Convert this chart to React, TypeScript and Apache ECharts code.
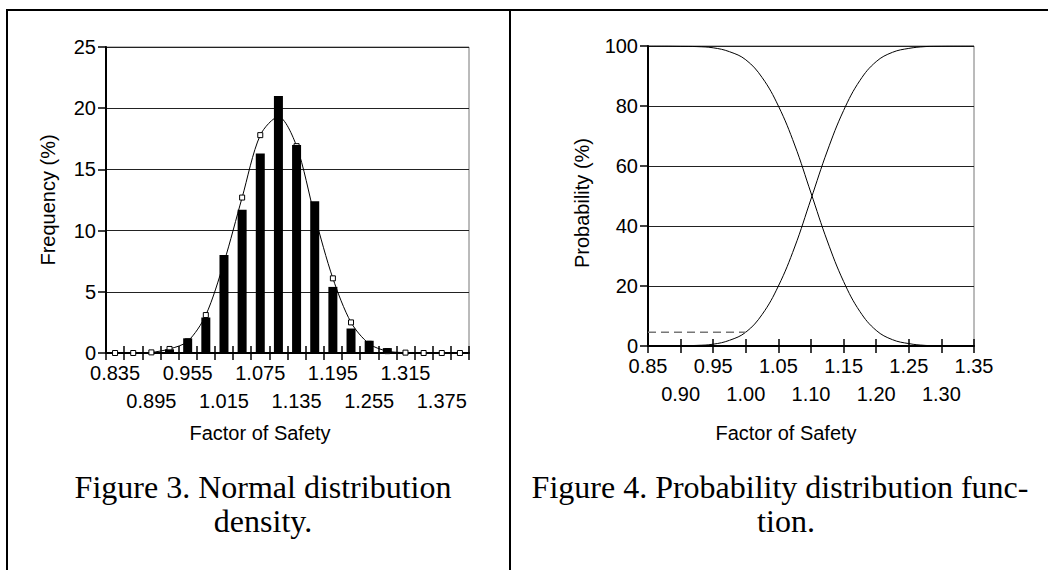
import React, { useEffect, useRef } from 'react';
import * as echarts from 'echarts';

// ---- Figure 3: histogram of factor of safety ----
const freqCategories = [
  '0.835', '0.865', '0.895', '0.925', '0.955', '0.985', '1.015', '1.045', '1.075', '1.105',
  '1.135', '1.165', '1.195', '1.225', '1.255', '1.285', '1.315', '1.345', '1.375', '1.405',
];
const freqBars = [0, 0, 0, 0.3, 1.2, 2.9, 8.0, 11.7, 16.3, 21.0, 17.0, 12.4, 5.4, 2.0, 1.0, 0.4, 0, 0, 0, 0];
const freqCurve = [0, 0, 0.05, 0.33, 0.95, 3.1, 7.4, 12.7, 17.8, 19.3, 16.9, 11.2, 6.1, 2.5, 0.75, 0.15, 0.03, 0, 0, 0];

// ---- Figure 4: probability distribution function ----
const fsValues = [
  0.85, 0.875, 0.9, 0.925, 0.95, 0.975, 1.0, 1.025, 1.05, 1.075, 1.1,
  1.125, 1.15, 1.175, 1.2, 1.225, 1.25, 1.275, 1.3, 1.325, 1.35,
];
const probIncreasing = [0, 0, 0.1, 0.2, 0.6, 1.9, 4.6, 10.5, 20.0, 33.0, 49.0, 65.0, 78.5, 88.5, 94.8, 97.9, 99.2, 99.8, 99.95, 100, 100];
const probDecreasing = [100, 100, 99.9, 99.8, 99.4, 98.1, 95.4, 89.5, 80.0, 67.0, 51.0, 35.0, 21.5, 11.5, 5.2, 2.1, 0.8, 0.2, 0.05, 0, 0];
const dashedX = [0.85, 1.0];
const dashedLevel = 4.6;

const SANS = 'Liberation Sans, Arial, sans-serif';
const SERIF = 'Liberation Serif, Times New Roman, serif';

export default function App() {
  const ref = useRef<HTMLDivElement>(null);

  useEffect(() => {
    if (!ref.current) return;
    const chart = echarts.init(ref.current, undefined, { renderer: 'svg' });

    const labelStyle = { color: '#000', fontSize: 20, fontFamily: SANS };
    const pairs = (ys: number[]) => fsValues.map((x, i) => [x, ys[i]]);
    const fsIndex = (v: number) => Math.round((v - 0.85) / 0.05);

    const option: any = {
      animation: false,
      backgroundColor: '#fff',
      grid: [
        { left: 106, top: 47, width: 363, height: 306, show: true, borderColor: '#777', borderWidth: 1 },
        { left: 648, top: 46, width: 326, height: 300, show: true, borderColor: '#777', borderWidth: 1 },
      ],
      xAxis: [
        {
          gridIndex: 0, type: 'category', data: freqCategories, position: 'bottom',
          axisLine: { lineStyle: { color: '#000', width: 2 } },
          axisTick: { show: true, interval: 0, alignWithLabel: false, length: 7, lineStyle: { color: '#000', width: 1.5 } },
          axisLabel: { ...labelStyle, interval: 0, margin: 10, formatter: (v: string, i: number) => (i % 4 === 0 ? v : '') },
          splitLine: { show: false },
        },
        {
          gridIndex: 0, type: 'category', data: freqCategories, position: 'bottom',
          axisLine: { show: false },
          axisTick: { show: true, inside: true, interval: 0, alignWithLabel: false, length: 7, lineStyle: { color: '#000', width: 1.5 } },
          axisLabel: { ...labelStyle, interval: 0, margin: 38, formatter: (v: string, i: number) => (i % 4 === 2 ? v : '') },
          splitLine: { show: false },
        },
        {
          gridIndex: 1, type: 'value', min: 0.85, max: 1.35, interval: 0.05, position: 'bottom',
          axisLine: { lineStyle: { color: '#000', width: 2 } },
          axisTick: { show: true, length: 7, lineStyle: { color: '#000', width: 1.5 } },
          axisLabel: { ...labelStyle, margin: 10, showMinLabel: true, showMaxLabel: true, formatter: (v: number) => (fsIndex(v) % 2 === 0 ? v.toFixed(2) : '') },
          splitLine: { show: false },
        },
        {
          gridIndex: 1, type: 'value', min: 0.85, max: 1.35, interval: 0.05, position: 'bottom',
          axisLine: { show: false },
          axisTick: { show: true, inside: true, length: 7, lineStyle: { color: '#000', width: 1.5 } },
          axisLabel: { ...labelStyle, margin: 38, formatter: (v: number) => (fsIndex(v) % 2 === 1 ? v.toFixed(2) : '') },
          splitLine: { show: false },
        },
      ],
      yAxis: [
        {
          gridIndex: 0, type: 'value', min: 0, max: 25, interval: 5,
          axisLine: { show: true, lineStyle: { color: '#000', width: 2 } },
          axisTick: { show: true, length: 8, lineStyle: { color: '#000', width: 1.5 } },
          axisLabel: { ...labelStyle, margin: 10 },
          splitLine: { show: true, lineStyle: { color: '#222', width: 1 } },
        },
        {
          gridIndex: 1, type: 'value', min: 0, max: 100, interval: 20,
          axisLine: { show: true, lineStyle: { color: '#000', width: 2 } },
          axisTick: { show: true, length: 8, lineStyle: { color: '#000', width: 1.5 } },
          axisLabel: { ...labelStyle, margin: 10 },
          splitLine: { show: true, lineStyle: { color: '#222', width: 1 } },
        },
      ],
      series: [
        {
          type: 'line', xAxisIndex: 0, yAxisIndex: 0, data: freqCurve, smooth: 0.3,
          symbol: 'rect', symbolSize: 5, showSymbol: true,
          lineStyle: { color: '#000', width: 1 },
          itemStyle: { color: '#fff', borderColor: '#000', borderWidth: 1 },
          z: 2,
        },
        {
          type: 'bar', xAxisIndex: 0, yAxisIndex: 0, data: freqBars, barWidth: 9,
          itemStyle: { color: '#000' },
          z: 3,
        },
        {
          type: 'line', xAxisIndex: 2, yAxisIndex: 1, data: pairs(probIncreasing), smooth: 0.4,
          showSymbol: false, symbol: 'none', lineStyle: { color: '#000', width: 1 },
        },
        {
          type: 'line', xAxisIndex: 2, yAxisIndex: 1, data: pairs(probDecreasing), smooth: 0.4,
          showSymbol: false, symbol: 'none', lineStyle: { color: '#000', width: 1 },
        },
        {
          type: 'line', xAxisIndex: 2, yAxisIndex: 1, data: dashedX.map((x) => [x, dashedLevel]),
          showSymbol: false, symbol: 'none', lineStyle: { color: '#777', width: 1.5, type: [8, 5] },
        },
      ],
      graphic: [
        { type: 'line', shape: { x1: 7, y1: 9, x2: 7, y2: 570 }, style: { stroke: '#000', lineWidth: 2 } },
        { type: 'line', shape: { x1: 6, y1: 10, x2: 1048, y2: 10 }, style: { stroke: '#000', lineWidth: 2 } },
        { type: 'line', shape: { x1: 510, y1: 10, x2: 510, y2: 570 }, style: { stroke: '#000', lineWidth: 2 } },
        { type: 'text', x: 48, y: 200, rotation: Math.PI / 2, style: { text: 'Frequency (%)', font: `20px ${SANS}`, fill: '#000', textAlign: 'center', textVerticalAlign: 'middle' } },
        { type: 'text', x: 582, y: 203, rotation: Math.PI / 2, style: { text: 'Probability (%)', font: `20px ${SANS}`, fill: '#000', textAlign: 'center', textVerticalAlign: 'middle' } },
        { type: 'text', x: 260, y: 433, style: { text: 'Factor of Safety', font: `20px ${SANS}`, fill: '#000', textAlign: 'center', textVerticalAlign: 'middle' } },
        { type: 'text', x: 786, y: 433, style: { text: 'Factor of Safety', font: `20px ${SANS}`, fill: '#000', textAlign: 'center', textVerticalAlign: 'middle' } },
        { type: 'text', x: 263, y: 487, style: { text: 'Figure 3. Normal distribution', font: `32px ${SERIF}`, fill: '#000', textAlign: 'center', textVerticalAlign: 'middle' } },
        { type: 'text', x: 263, y: 521, style: { text: 'density.', font: `32px ${SERIF}`, fill: '#000', textAlign: 'center', textVerticalAlign: 'middle' } },
        { type: 'text', x: 780, y: 487, style: { text: 'Figure 4. Probability distribution func-', font: `32px ${SERIF}`, fill: '#000', textAlign: 'center', textVerticalAlign: 'middle' } },
        { type: 'text', x: 786, y: 521, style: { text: 'tion.', font: `32px ${SERIF}`, fill: '#000', textAlign: 'center', textVerticalAlign: 'middle' } },
      ],
    };

    chart.setOption(option);
    return () => chart.dispose();
  }, []);

  return <div ref={ref} style={{ position: 'fixed', left: 0, top: 0, width: 1048, height: 570, background: '#fff' }} />;
}
